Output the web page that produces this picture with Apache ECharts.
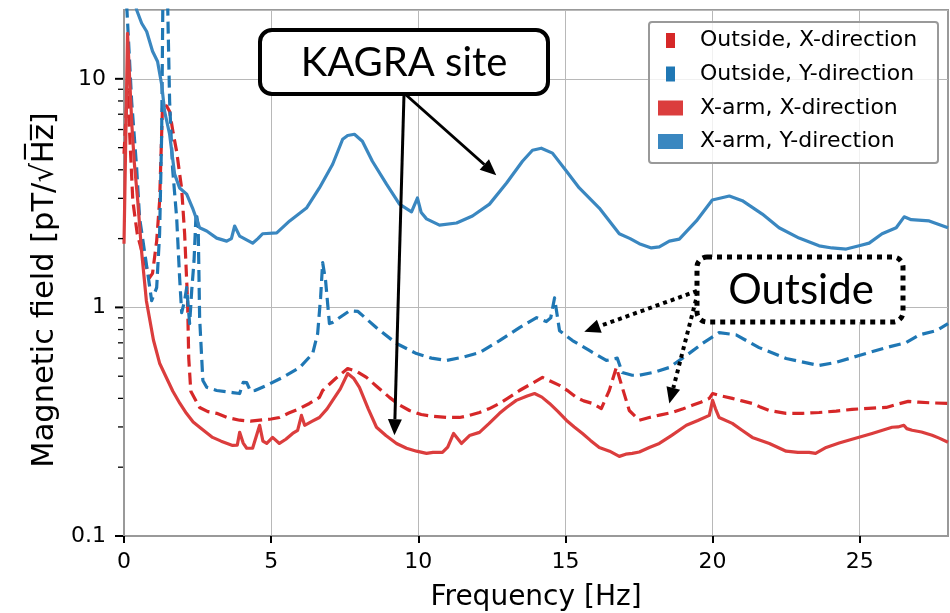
<!DOCTYPE html>
<html><head><meta charset="utf-8">
<script src="https://cdn.jsdelivr.net/npm/echarts@6/dist/echarts.min.js"></script>
<style>html,body{margin:0;padding:0;background:#fff}#c{width:950px;height:613px}</style>
</head><body><div id="c"></div>
<script>
// ---- data (frequency in Hz, field in pT/sqrt(Hz)) ----
const outX_f = [0.0,0.12,0.2,0.3,0.45,0.63,0.87,0.97,1.11,1.21,1.31,1.45,1.55,1.67,1.79,1.96,2.06,2.16,2.2,2.27,2.57,2.85,3.15,3.5,3.93,4.3,4.61,5.0,5.28,5.6,5.97,6.3,6.64,6.75,7.2,7.6,7.9,8.24,8.6,9.02,9.35,9.7,10.1,10.48,11.0,11.4,11.7,12.08,12.4,12.76,13.1,13.44,13.8,14.22,14.5,14.8,15.1,15.37,15.62,15.92,16.22,16.49,16.73,16.93,17.17,17.51,17.85,18.2,18.63,19.0,19.31,19.6,19.89,20.0,20.22,20.67,21.0,21.35,21.6,21.93,22.5,23.05,23.62,24.2,24.74,25.3,25.9,26.3,26.65,27.0,27.5,28.0];
const outX_v = [4.7,9.0,5.5,2.92,2.1,1.71,1.35,1.41,1.95,2.92,7.7,7.6,7.2,5.8,4.8,3.3,2.1,1.07,0.6,0.43,0.365,0.35,0.344,0.33,0.321,0.318,0.321,0.325,0.33,0.345,0.361,0.38,0.404,0.433,0.49,0.54,0.525,0.494,0.45,0.404,0.375,0.354,0.34,0.334,0.33,0.33,0.336,0.347,0.36,0.38,0.405,0.433,0.46,0.494,0.475,0.456,0.43,0.404,0.39,0.38,0.361,0.433,0.546,0.447,0.354,0.321,0.33,0.338,0.347,0.36,0.373,0.385,0.4,0.42,0.412,0.4,0.39,0.38,0.368,0.354,0.344,0.344,0.347,0.352,0.358,0.362,0.365,0.378,0.388,0.385,0.382,0.38];

const outY_f = [0.0,0.1,0.26,0.43,0.53,0.81,0.94,1.11,1.21,1.28,1.33,1.46,1.55,1.65,1.79,1.89,1.96,2.06,2.13,2.23,2.3,2.38,2.45,2.52,2.57,2.68,2.81,3.15,3.69,3.93,4.05,4.17,4.3,4.45,4.85,5.39,5.97,6.41,6.58,6.68,6.75,6.85,6.98,7.09,7.67,7.95,8.58,9.26,9.94,10.45,10.96,11.5,12.08,12.76,13.44,14.02,14.35,14.5,14.63,14.8,15.24,15.81,16.39,16.76,16.93,17.27,17.51,18.0,18.53,19.11,19.65,20.22,20.8,21.58,22.5,23.62,24.2,24.98,25.9,26.58,27.02,27.6,28.0];
const outY_v = [30,20,7.97,4.07,2.46,1.4,1.07,1.22,2.1,5.72,30,30,7.97,4.07,2.46,1.35,0.948,1.07,1.22,0.849,1.18,1.6,2.6,2.3,0.9,0.479,0.447,0.433,0.424,0.42,0.47,0.469,0.43,0.433,0.456,0.494,0.546,0.628,0.768,1.1,1.57,1.31,0.85,0.86,0.967,0.96,0.815,0.695,0.628,0.6,0.586,0.605,0.634,0.716,0.815,0.902,0.867,0.9,1.1,0.791,0.716,0.648,0.586,0.6,0.519,0.505,0.505,0.52,0.546,0.616,0.695,0.776,0.758,0.667,0.598,0.557,0.575,0.616,0.667,0.702,0.758,0.791,0.849];

const armX_f = [0.0,0.12,0.2,0.27,0.35,0.47,0.59,0.76,1.0,1.21,1.45,1.66,1.9,2.12,2.35,2.57,3.01,3.3,3.69,3.85,3.93,4.05,4.17,4.37,4.61,4.72,4.85,5.05,5.28,5.5,5.73,5.9,6.03,6.14,6.4,6.64,6.9,7.09,7.35,7.6,7.8,8.0,8.3,8.58,8.9,9.26,9.6,9.94,10.28,10.5,10.82,11.0,11.2,11.47,11.74,12.08,12.4,12.76,13.0,13.33,13.7,13.95,14.2,14.46,14.75,15.03,15.3,15.58,15.85,16.15,16.5,16.83,17.05,17.27,17.51,17.85,18.19,18.6,19.11,19.5,19.89,20.0,20.1,20.22,20.67,21.0,21.35,21.93,22.5,22.9,23.28,23.5,23.86,24.3,24.74,25.42,26.1,26.3,26.5,26.6,26.78,27.1,27.46,27.7,28.0];
const armX_v = [1.9,15.8,9.5,6.2,4.3,2.9,1.8,1.07,0.72,0.57,0.49,0.43,0.38,0.344,0.315,0.299,0.27,0.26,0.249,0.25,0.284,0.255,0.242,0.242,0.305,0.26,0.254,0.27,0.254,0.265,0.281,0.29,0.337,0.305,0.318,0.33,0.36,0.392,0.44,0.514,0.49,0.447,0.36,0.299,0.275,0.254,0.242,0.235,0.23,0.232,0.232,0.245,0.281,0.254,0.275,0.284,0.31,0.344,0.365,0.392,0.41,0.42,0.405,0.38,0.35,0.321,0.3,0.281,0.262,0.244,0.235,0.223,0.228,0.23,0.233,0.244,0.254,0.275,0.305,0.32,0.337,0.392,0.36,0.33,0.311,0.29,0.27,0.254,0.235,0.232,0.232,0.23,0.244,0.255,0.265,0.281,0.299,0.3,0.305,0.295,0.29,0.285,0.276,0.268,0.257];

const armY_f = [0.0,0.2,0.43,0.6,0.77,0.97,1.14,1.28,1.38,1.55,1.72,1.89,2.13,2.33,2.57,2.81,3.15,3.49,3.65,3.76,3.93,4.15,4.37,4.55,4.71,5.19,5.63,6.2,6.64,7.09,7.43,7.6,7.83,8.1,8.44,8.92,9.36,9.77,9.97,10.1,10.28,10.72,11.3,11.84,12.42,13.0,13.54,13.88,14.18,14.56,15.03,15.47,16.15,16.83,17.2,17.51,17.92,18.19,18.53,18.87,19.45,19.99,20.57,21.01,21.69,22.26,22.94,23.62,24.06,24.54,24.98,25.32,25.76,26.24,26.51,26.75,27.36,28.0];
const armY_v = [40,30,20,17.5,16.1,13.2,11.9,9.45,7.2,5.72,3.83,3.33,3.13,2.72,2.23,2.16,2.01,1.95,2.0,2.27,2.05,1.98,1.91,2.0,2.1,2.12,2.39,2.72,3.33,4.23,5.44,5.65,5.72,5.33,4.36,3.46,2.83,2.62,3.01,2.6,2.44,2.29,2.34,2.51,2.83,3.5,4.36,4.87,4.97,4.73,3.95,3.33,2.72,2.1,2.0,1.9,1.82,1.84,1.95,1.99,2.39,2.95,3.07,2.93,2.56,2.23,2.01,1.86,1.82,1.8,1.86,1.91,2.1,2.23,2.49,2.42,2.39,2.23];

const seriesNames = ['Outside, X-direction','Outside, Y-direction','X-arm, X-direction','X-arm, Y-direction'];
const xTicks = [0,5,10,15,20,25];
const yMajorTicks = [0.1,1,10];
const yMinorTicks = [0.2,0.3,0.4,0.5,0.6,0.7,0.8,0.9,2,3,4,5,6,7,8,9];
const annotLabels = ['KAGRA site','Outside'];
// arrow tips (data coordinates: [Hz, pT/sqrt(Hz)])
const kagraTips = [[9.19,0.276],[12.65,3.79]];
const outsideTips = [[15.64,0.783],[18.53,0.38]];

const zip = (f,v) => f.map((x,i)=>[x,v[i]]);
const FONT = 'DejaVu Sans';
const chart = echarts.init(document.getElementById('c'), null, {renderer:'canvas'});

function lineSeries(name, f, v, color, dashed, z){
  return {name, type:'line', data: zip(f,v), symbol:'none', showSymbol:false, clip:true, z,
    lineStyle:{color, width:3.2, type: dashed ? [12,6] : 'solid', cap:'butt', join:'round'},
    itemStyle:{color}, emphasis:{disabled:true}};
}

const option = {
  animation:false,
  backgroundColor:'#fff',
  grid:{left:124, top:10, right:2, bottom:77, outerBoundsMode:'none', containLabel:false,
        show:true, borderColor:'#999', borderWidth:2, backgroundColor:'transparent'},
  xAxis:{type:'value', min:0, max:28, interval:5,
    axisLine:{lineStyle:{color:'#999', width:2}},
    axisTick:{customValues:xTicks, length:7, lineStyle:{color:'#000', width:2}},
    axisLabel:{customValues:xTicks, fontSize:22, color:'#000', fontFamily:FONT, margin:15},
    splitLine:{show:true, lineStyle:{color:'#b8b8b8', width:1}},
    name:'Frequency [Hz]', nameLocation:'middle', nameGap:48,
    nameTextStyle:{fontSize:28, color:'#000', fontFamily:FONT}},
  yAxis:{type:'log', logBase:10, min:0.1, max:20,
    axisLine:{lineStyle:{color:'#999', width:2}},
    axisTick:{show:false},
    minorTick:{show:false},
    axisLabel:{fontSize:22, color:'#000', fontFamily:FONT, margin:18,
      formatter:(v)=>{ const l=Math.log10(v); if (Math.abs(l-Math.round(l))>1e-6) return ''; const r=Math.round(l); return r<0 ? '0.1' : String(Math.pow(10,r)); }},
    splitLine:{show:true, lineStyle:{color:'#b8b8b8', width:1}},
    name:'Magnetic field [pT/\u221AH\u0305z\u0305]', nameLocation:'middle', nameGap:58,
    nameTextStyle:{fontSize:30.5, color:'#000', fontFamily:FONT, padding:[0,34,0,0]}},
  legend:[
    {data:seriesNames.slice(0,2), orient:'vertical', left:666, top:29.5, padding:0, itemGap:11.5,
     itemWidth:9, itemHeight:15, icon:'rect', itemStyle:{borderWidth:0}, lineStyle:{opacity:0},
     textStyle:{fontSize:22, color:'#000', fontFamily:FONT, padding:[0,0,0,20]}, selectedMode:false, z:6},
    {data:seriesNames.slice(2,4), orient:'vertical', left:658, top:97, padding:0, itemGap:11.5,
     itemWidth:25, itemHeight:15, icon:'rect', itemStyle:{borderWidth:0}, lineStyle:{opacity:0},
     textStyle:{fontSize:22, color:'#000', fontFamily:FONT, padding:[0,0,0,12]}, selectedMode:false, z:6}
  ],
  series:[
    lineSeries(seriesNames[0], outX_f, outX_v, '#d62728', true, 2),
    lineSeries(seriesNames[1], outY_f, outY_v, '#1f77b4', true, 2),
    lineSeries(seriesNames[2], armX_f, armX_v, '#db3d3d', false, 3),
    lineSeries(seriesNames[3], armY_f, armY_v, '#3a87c0', false, 3),
    {type:'custom', silent:true, clip:false, z:6,
     data:[...yMajorTicks, ...yMinorTicks].map(v=>[0,v]), encode:{x:0,y:1},
     renderItem:(params, api)=>{
       const v = api.value(1); const p = api.coord([0, v]);
       const major = yMajorTicks.includes(v);
       const len = major ? 8 : 5;
       return {type:'line', shape:{x1:p[0]-1-len, y1:p[1], x2:p[0]-1, y2:p[1]},
               style:{stroke:'#000', lineWidth: major ? 2 : 1.3}};
     }}
  ]
};
chart.setOption(option);

function arrow(tail, tip, style, headLen, headW){
  const dx = tip[0]-tail[0], dy = tip[1]-tail[1];
  const L = Math.hypot(dx,dy); const ux = dx/L, uy = dy/L; const nx = -uy, ny = ux;
  const bx = tip[0]-ux*headLen, by = tip[1]-uy*headLen;
  return [
    {type:'line', z:20, shape:{x1:tail[0], y1:tail[1], x2:bx, y2:by}, style:Object.assign({stroke:'#000', fill:null}, style)},
    {type:'polygon', z:20, shape:{points:[[tip[0],tip[1]],[bx+nx*headW,by+ny*headW],[bx-nx*headW,by-ny*headW]]}, style:{fill:'#000'}}
  ];
}
const toPx = (d) => chart.convertToPixel({gridIndex:0}, d);
const kagraBox = {x:260, y:30, width:288, height:64};
const outsideBox = {x:697, y:257, width:206, height:65};
const kTail = [404, kagraBox.y+kagraBox.height];
const oTail = [outsideBox.x, 291];
const graphics = [
  {type:'rect', z:5, shape:{x:649, y:22, width:289, height:141, r:3}, style:{fill:'rgba(255,255,255,0.8)', stroke:'#999', lineWidth:2}},
  ...arrow(kTail, toPx(kagraTips[0]), {lineWidth:3}, 16, 7),
  ...arrow([kTail[0]+1, kTail[1]], toPx(kagraTips[1]), {lineWidth:3}, 16, 7),
  ...arrow(oTail, toPx(outsideTips[0]), {lineWidth:4, lineDash:[4,4]}, 16, 7),
  ...arrow([oTail[0]+1, oTail[1]+1], toPx(outsideTips[1]), {lineWidth:4, lineDash:[4,4]}, 16, 7),
  {type:'rect', z:21, shape:Object.assign({r:12}, kagraBox), style:{fill:'#fff', stroke:'#000', lineWidth:4}},
  {type:'text', z:22, x:kagraBox.x+kagraBox.width/2, y:kagraBox.y+kagraBox.height/2+1,
   style:{text:annotLabels[0], font:'40px Lato', fill:'#000', align:'center', verticalAlign:'middle'}},
  {type:'rect', z:21, shape:Object.assign({r:10}, outsideBox), style:{fill:'#fff', stroke:'#000', lineWidth:5, lineDash:[5,5]}},
  {type:'text', z:22, x:outsideBox.x+outsideBox.width/2+1, y:outsideBox.y+outsideBox.height/2+1,
   style:{text:annotLabels[1], font:'42px Lato', fill:'#000', align:'center', verticalAlign:'middle'}}
];
chart.setOption({graphic:graphics});
</script></body></html>
